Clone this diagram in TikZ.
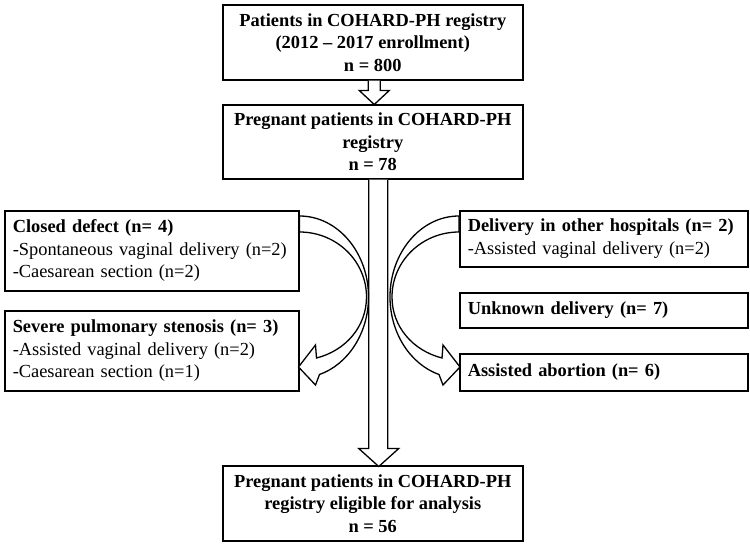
\documentclass[tikz,border=0pt]{standalone}
\usepackage{fontspec}
\setmainfont{Liberation Serif}
\begin{document}
\begin{tikzpicture}[x=1pt,y=-1pt,
  box/.style={draw, line width=1.5pt, fill=white, inner sep=0pt, anchor=north west,
    font=\fontsize{18.4}{22.5}\selectfont},
  cbox/.style={box, align=center},
  lbox/.style={box, align=left, inner xsep=8pt},
  barrow/.style={draw, line width=1.3pt, fill=white, line join=miter}]
\useasboundingbox (0,0) rectangle (750,544);

\node[cbox, minimum width=300pt, minimum height=75pt] (top) at (222,4)
  {\textbf{Patients in COHARD-PH registry}\\\textbf{(2012 -- 2017 enrollment)}\\\textbf{n = 800}};
\node[cbox, minimum width=300pt, minimum height=74pt] (preg) at (222,104)
  {\textbf{Pregnant patients in COHARD-PH}\\\textbf{registry}\\\textbf{n = 78}};
\node[cbox, minimum width=300pt, minimum height=75pt] (elig) at (222,465)
  {\textbf{Pregnant patients in COHARD-PH}\\\textbf{registry eligible for analysis}\\\textbf{n = 56}};

\node[lbox, text width=278pt, minimum height=80pt] (cd) at (4,210)
  {\textbf{Closed defect (n= 4)}\\-Spontaneous vaginal delivery (n=2)\\-Caesarean section (n=2)};
\node[lbox, text width=278pt, minimum height=80pt] (sps) at (4,310)
  {\textbf{Severe pulmonary stenosis (n= 3)}\\-Assisted vaginal delivery (n=2)\\-Caesarean section (n=1)};

\node[lbox, text width=272pt, minimum height=56pt] (dh) at (459,210)
  {\textbf{Delivery in other hospitals (n= 2)}\\-Assisted vaginal delivery (n=2)};
\node[lbox, text width=272pt, minimum height=35pt] (ud) at (459,292)
  {\textbf{Unknown delivery (n= 7)}};
\node[lbox, text width=272pt, minimum height=37pt] (aa) at (459,353)
  {\textbf{Assisted abortion (n= 6)}};

% short block arrow top -> preg
\begin{scope}[shift={(top.south)}]
\path[barrow] (-4.5,0) -- (-4.5,10) -- (-13.5,10) -- (1.5,24) -- (16.5,10) -- (7.5,10) -- (7.5,0);
\end{scope}

% long block arrow preg -> elig
\begin{scope}[shift={(preg.south)}]
\path[barrow] (-4,0) -- (-4,269) -- (-14,269) -- (6,287) -- (26,269) -- (15,269) -- (15,0);
\end{scope}

% curved block arrow: closed defect -> severe pulmonary stenosis
\begin{scope}[shift={(cd.north east)}]
\path[barrow] (0,6) .. controls (38.1,6) and (69,42.3) .. (69,87)
  .. controls (69,122.6) and (49,154.1) .. (20,164.5)
  -- (16,175) -- (-1,157) -- (16,135) -- (17,148)
  .. controls (46.4,140.5) and (67,116.5) .. (67,87)
  .. controls (67,51) and (37,22) .. (0,22) -- cycle;
\end{scope}

% curved block arrow: delivery in other hospitals -> assisted abortion
\begin{scope}[shift={(dh.north west)}, xscale=-1]
\path[barrow] (0,6) .. controls (38.1,6) and (69,42.3) .. (69,87)
  .. controls (69,122.6) and (49,154.1) .. (20,164.5)
  -- (16,175) -- (-1,157) -- (16,135) -- (17,148)
  .. controls (46.4,140.5) and (67,116.5) .. (67,87)
  .. controls (67,51) and (37,22) .. (0,22) -- cycle;
\end{scope}
\end{tikzpicture}
\end{document}
